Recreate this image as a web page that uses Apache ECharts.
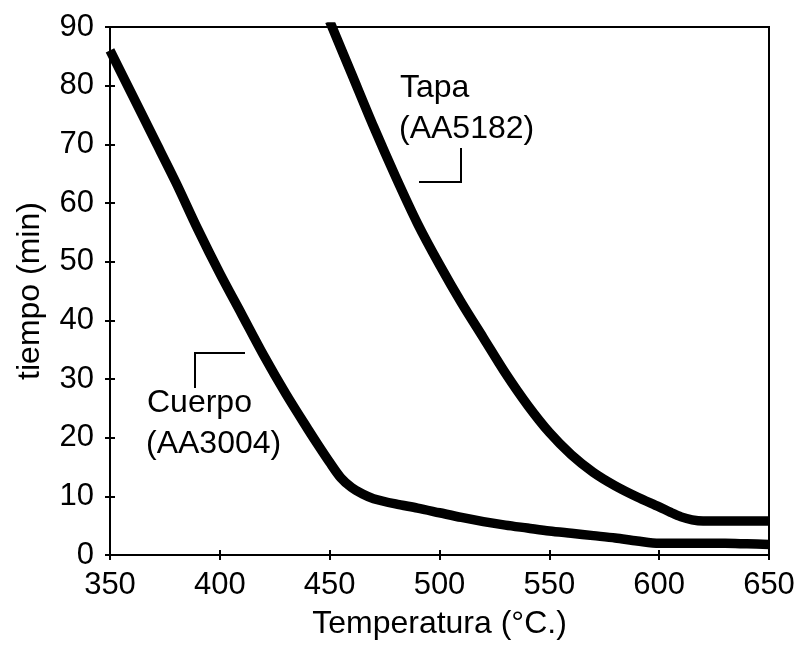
<!DOCTYPE html>
<html>
<head>
<meta charset="utf-8">
<script src="https://cdn.jsdelivr.net/npm/echarts@6/dist/echarts.min.js"></script>
<style>
  html, body { margin: 0; padding: 0; background: #fff; }
  #chart { width: 802px; height: 653px; }
</style>
</head>
<body>
<div id="chart"></div>
<script>
// Temperatures (°C) and annealing times (min) for the two alloys
const cuerpoTemp = [350, 360, 370, 380, 390, 400, 410, 420, 430, 440, 445, 450, 455, 460, 465, 470, 480, 490, 500, 510, 520, 530, 540, 550, 560, 570, 580, 590, 600, 610, 620, 630, 640, 650];
const cuerpoTime = [86, 78.5, 71, 63.5, 55.5, 48, 41, 34, 27.5, 21.5, 18.6, 15.8, 13.2, 11.5, 10.4, 9.6, 8.7, 8.0, 7.2, 6.4, 5.7, 5.1, 4.6, 4.1, 3.7, 3.3, 2.9, 2.4, 2.0, 2.0, 2.0, 2.0, 1.9, 1.8];

const tapaTemp = [450, 460, 470, 480, 490, 500, 510, 520, 530, 540, 550, 560, 570, 580, 590, 600, 605, 610, 615, 620, 630, 640, 650];
const tapaTime = [91, 82, 73, 64.5, 56.5, 49.5, 43, 37, 31, 25.6, 20.9, 17.1, 14.1, 11.8, 9.9, 8.2, 7.3, 6.5, 6.0, 5.8, 5.8, 5.8, 5.8];

// Axis ranges and titles
const xRange = { min: 350, max: 650, step: 50 };
const yRange = { min: 0, max: 90, step: 10 };
const xTitle = 'Temperatura (°C.)';
const yTitle = 'tiempo (min)';

const pair = (xs, ys) => xs.map((x, i) => [x, ys[i]]);

const FONT = '"Liberation Sans", Arial, sans-serif';
const INK = '#000';

const chart = echarts.init(document.getElementById('chart'), null, { renderer: 'canvas' });

const baseX = {
  type: 'value', min: xRange.min, max: xRange.max, interval: xRange.step,
  position: 'bottom', splitLine: { show: false },
  axisLine: { show: true, lineStyle: { color: INK, width: 2 } }
};
const baseY = {
  type: 'value', min: yRange.min, max: yRange.max, interval: yRange.step,
  position: 'left', splitLine: { show: false },
  axisLine: { show: true, lineStyle: { color: INK, width: 2 } }
};

chart.setOption({
  animation: false,
  backgroundColor: '#fff',
  grid: {
    left: 110, right: 33, top: 27, bottom: 98,
    show: true, borderColor: INK, borderWidth: 2, backgroundColor: 'transparent'
  },
  xAxis: [
    Object.assign({}, baseX, {
      name: xTitle, nameLocation: 'middle', nameGap: 53,
      nameTextStyle: { fontFamily: FONT, fontSize: 32, color: INK },
      axisTick: { show: true, inside: false, length: 5, lineStyle: { color: INK, width: 2 } },
      axisLabel: { fontFamily: FONT, fontSize: 31, color: INK, margin: 15 }
    }),
    Object.assign({}, baseX, {
      axisTick: { show: true, inside: true, length: 5, lineStyle: { color: INK, width: 2 } },
      axisLabel: { show: false }
    })
  ],
  yAxis: [
    Object.assign({}, baseY, {
      name: yTitle, nameLocation: 'middle', nameGap: 64, nameRotate: 90,
      nameTextStyle: { fontFamily: FONT, fontSize: 32, color: INK },
      axisTick: { show: true, inside: false, length: 5, lineStyle: { color: INK, width: 2 } },
      axisLabel: { fontFamily: FONT, fontSize: 31, color: INK, margin: 16 }
    }),
    Object.assign({}, baseY, {
      axisTick: { show: true, inside: true, length: 5, lineStyle: { color: INK, width: 2 } },
      axisLabel: { show: false }
    })
  ],
  series: [
    {
      name: 'Cuerpo (AA3004)', type: 'line', data: pair(cuerpoTemp, cuerpoTime),
      smooth: 0.3, showSymbol: false, clip: true,
      lineStyle: { color: INK, width: 9.5 }
    },
    {
      name: 'Tapa (AA5182)', type: 'line', data: pair(tapaTemp, tapaTime),
      smooth: 0.3, showSymbol: false, clip: true,
      lineStyle: { color: INK, width: 9.5 }
    }
  ],
  graphic: [
    // Tapa label and its leader
    { type: 'text', left: 400, top: 72, style: { text: 'Tapa', font: '32px ' + FONT, fill: INK } },
    { type: 'text', left: 399, top: 113, style: { text: '(AA5182)', font: '32px ' + FONT, fill: INK } },
    { type: 'polyline', shape: { points: [[461, 148], [461, 182], [419, 182]] },
      style: { stroke: INK, lineWidth: 2, fill: null } },
    // Cuerpo label and its leader
    { type: 'text', left: 147, top: 387, style: { text: 'Cuerpo', font: '32px ' + FONT, fill: INK } },
    { type: 'text', left: 146, top: 428, style: { text: '(AA3004)', font: '32px ' + FONT, fill: INK } },
    { type: 'polyline', shape: { points: [[245, 353], [195, 353], [195, 388]] },
      style: { stroke: INK, lineWidth: 2, fill: null } }
  ]
});
</script>
</body>
</html>
